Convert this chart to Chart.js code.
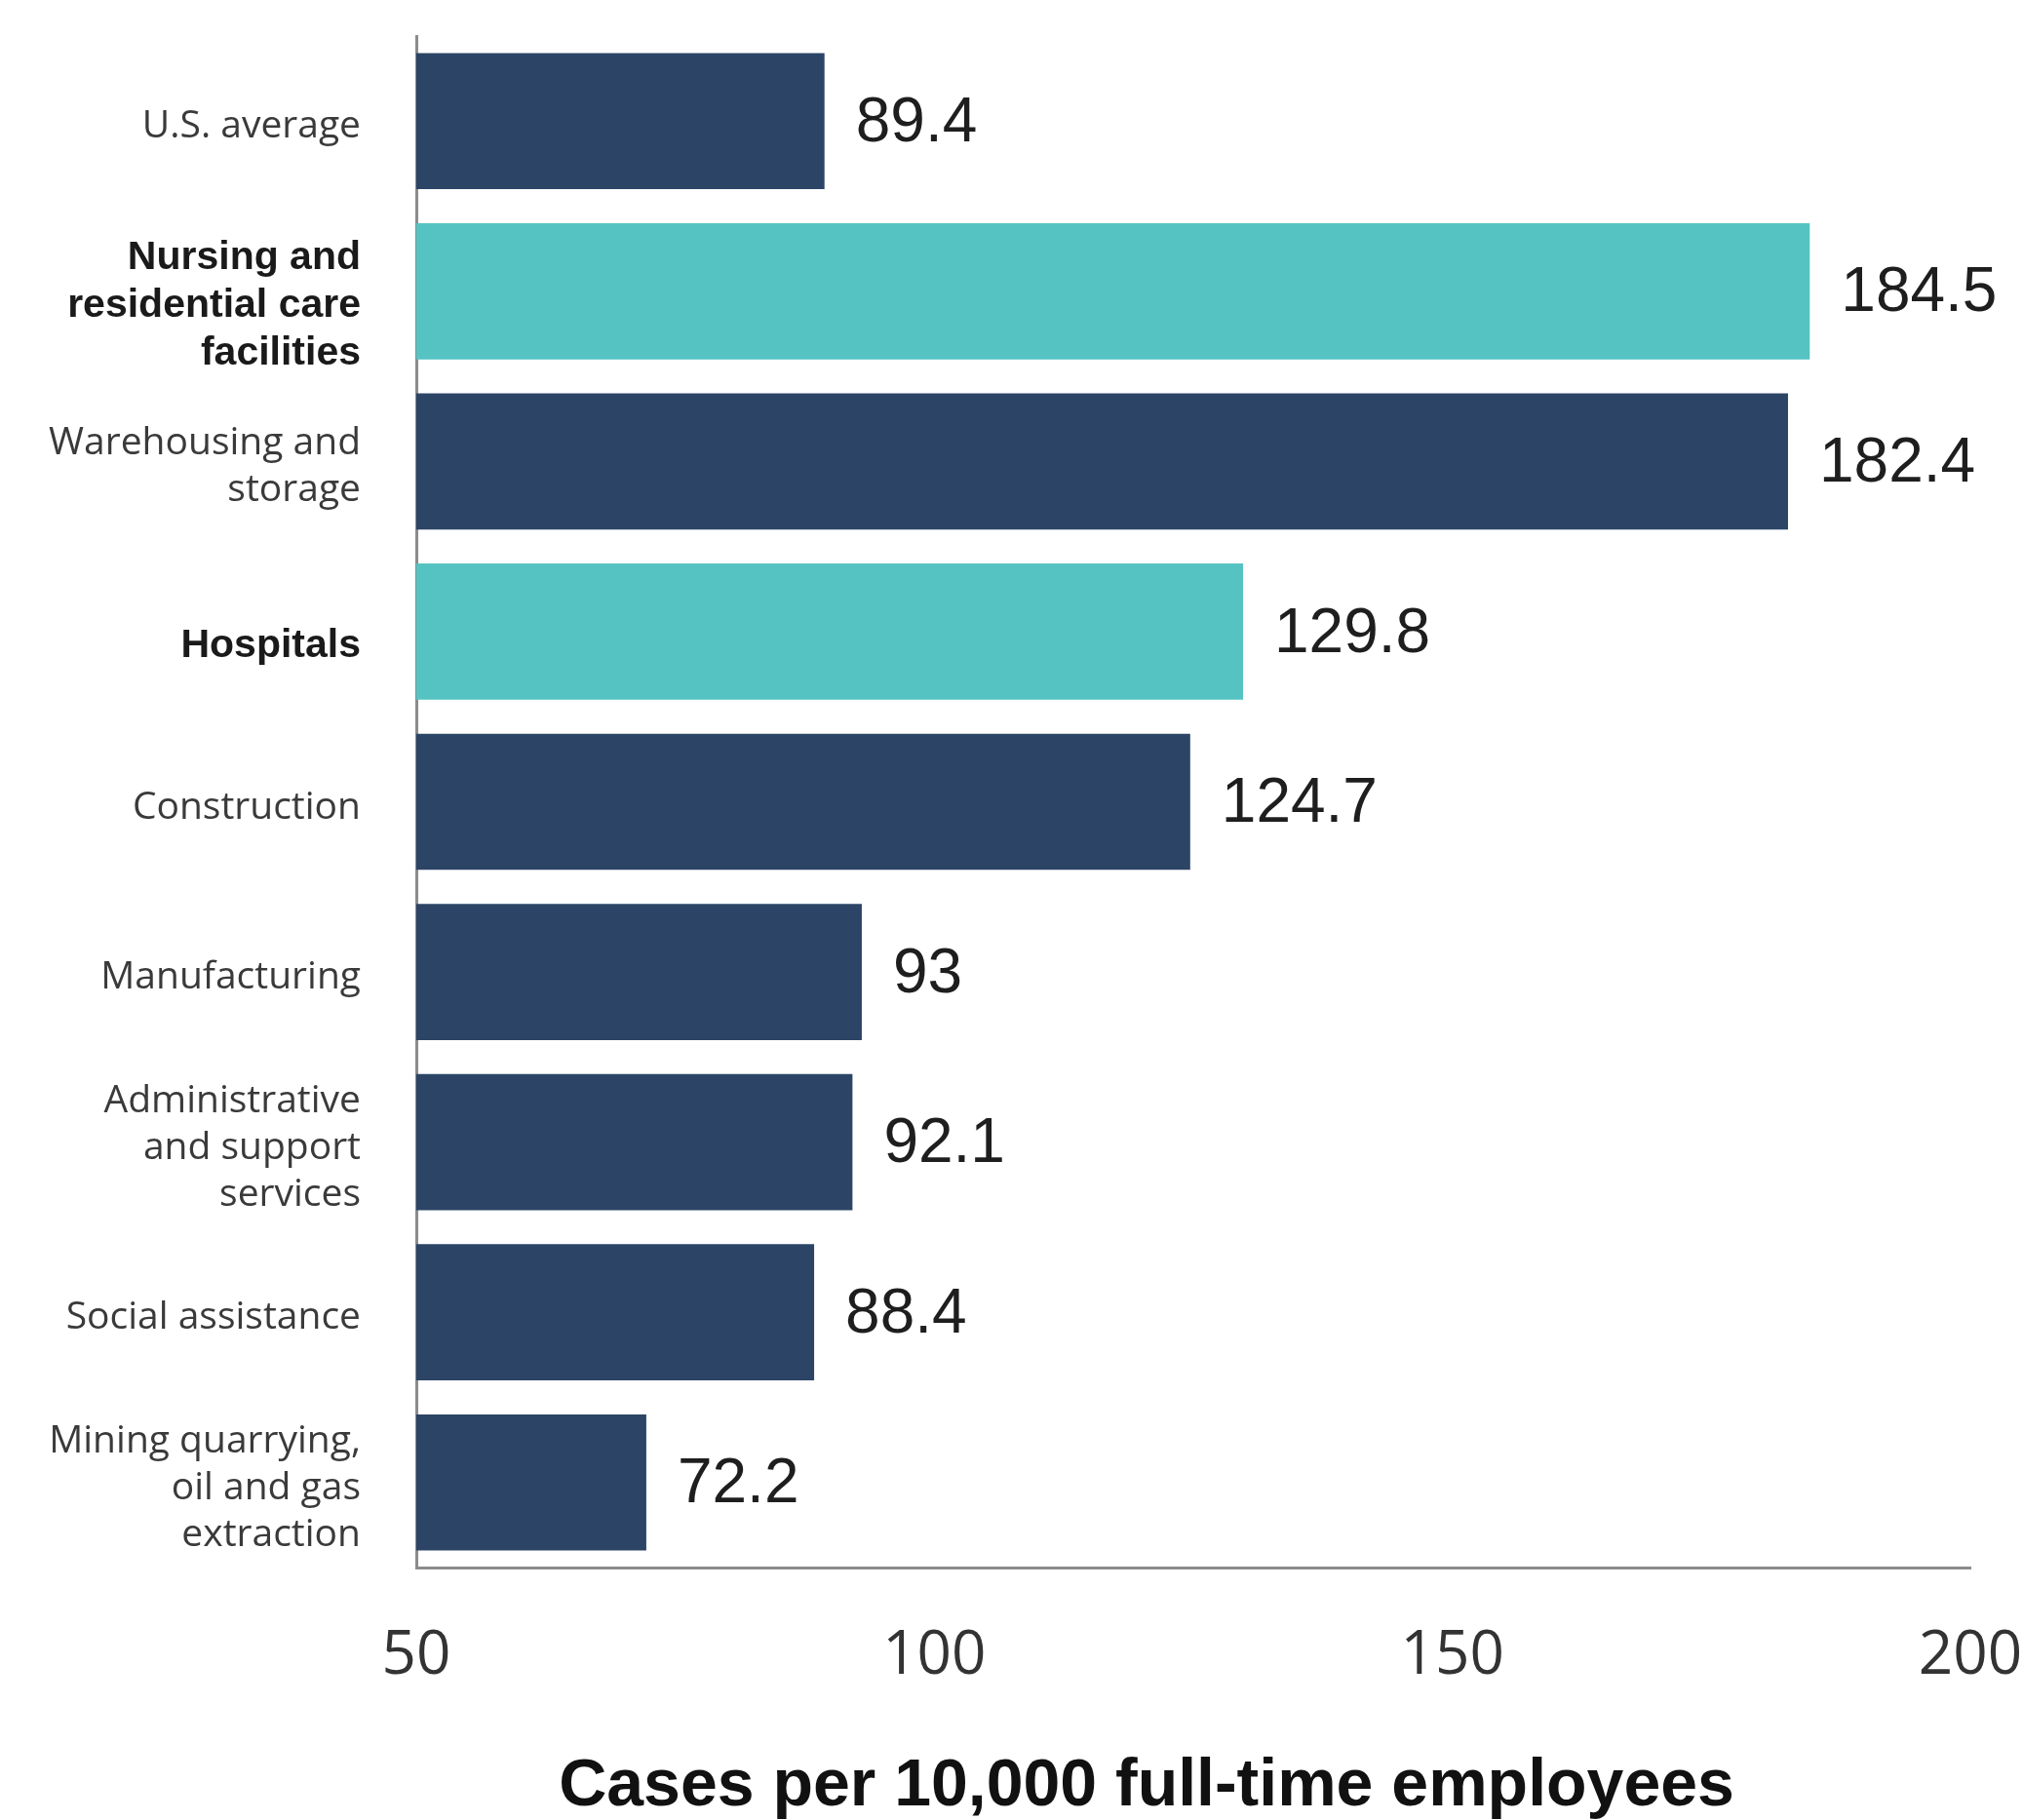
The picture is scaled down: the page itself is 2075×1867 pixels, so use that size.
<!DOCTYPE html>
<html>
<head>
<meta charset="utf-8">
<script src="https://cdn.jsdelivr.net/npm/chart.js@4/dist/chart.umd.min.js"></script>
<style>
  html, body { margin: 0; padding: 0; background: #fff; }
  #wrap { width: 2075px; height: 1867px; position: relative; }
</style>
</head>
<body>
<div id="wrap"><canvas id="plot1"></canvas></div>
<script>
// categorias (lineas de cada etiqueta)
const categorias = [
    ['U.S. average'],
    ['Nursing and', 'residential care', 'facilities'],
    ['Warehousing and', 'storage'],
    ['Hospitals'],
    ['Construction'],
    ['Manufacturing'],
    ['Administrative', 'and support', 'services'],
    ['Social assistance'],
    ['Mining quarrying,', 'oil and gas', 'extraction']
]

// casos por 10,000 empleados
const valores = [89.4, 184.5, 182.4, 129.8, 124.7, 93, 92.1, 88.4, 72.2]

// sectores de salud resaltados
const salud = [false, true, false, true, false, false, false, false, false]

const ticksX = [50, 100, 150, 200]
const tituloX = 'Cases per 10,000 full-time employees'

const colorOscuro = '#2c4566'
const colorTurquesa = '#56c3c3'

/* etiquetas del eje y, dibujadas a mano para poder bajarlas un poco */
let etiquetasY = {
    id: 'etiquetasY',
    afterDraw(chart) {
        const ctx = chart.ctx
        const escalaY = chart.scales.y
        const xDerecha = chart.chartArea.left - 57
        ctx.save()
        ctx.textAlign = 'right'
        ctx.textBaseline = 'middle'
        categorias.forEach((lineas, i) => {
            let tamaño, alto, bajar
            if (salud[i]) {
                tamaño = 41
                alto = 49
                bajar = 15
                ctx.font = 'bold 41px "Liberation Sans", Arial, sans-serif'
                ctx.fillStyle = '#1a1a1a'
            } else {
                tamaño = 39
                alto = 48
                bajar = 6
                ctx.font = '39px "Open Sans", sans-serif'
                ctx.fillStyle = '#3a3a3a'
            }
            const yCentro = escalaY.getPixelForTick(i) + bajar
            const yInicio = yCentro - (lineas.length - 1) * alto / 2
            lineas.forEach((linea, j) => {
                ctx.fillText(linea, xDerecha, yInicio + j * alto)
            })
        })
        ctx.restore()
    }
}

let etiquetasValores = {
    id: 'etiquetasValores',
    afterDatasetsDraw(chart) {
        const ctx = chart.ctx
        const meta = chart.getDatasetMeta(0)
        ctx.save()
        ctx.font = '64px "Liberation Sans", Arial, sans-serif'
        ctx.fillStyle = '#1e1e1e'
        ctx.textBaseline = 'middle'
        ctx.textAlign = 'left'
        meta.data.forEach((barra, i) => {
            ctx.fillText(String(valores[i]), barra.x + 32, barra.y + 3)
        })
        /* titulo del eje x, un poco a la izquierda del centro */
        const area = chart.chartArea
        ctx.font = 'bold 68px "Liberation Sans", Arial, sans-serif'
        ctx.fillStyle = '#111'
        ctx.textAlign = 'center'
        ctx.fillText(tituloX, (area.left + area.right) / 2 - 48, 1833)
        ctx.restore()
    }
}

let ctx = document.getElementById('plot1').getContext('2d')

let grafica1 = new Chart(ctx, {
    type: 'bar',
    data: {
        labels: categorias,
        datasets: [{
            data: valores,
            backgroundColor: salud.map(s => s ? colorTurquesa : colorOscuro),
            borderWidth: 0,
            categoryPercentage: 1,
            barPercentage: 0.8
        }]
    },
    options: {
        indexAxis: 'y',
        responsive: true,
        maintainAspectRatio: false,
        animation: false,
        layout: { padding: { top: 37, right: 54, left: 0, bottom: 0 } },
        plugins: {
            legend: { display: false },
            tooltip: { enabled: false }
        },
        scales: {
            x: {
                min: ticksX[0],
                max: ticksX[ticksX.length - 1],
                afterFit: (scale) => {
                    scale.height = 259
                    scale.paddingLeft = 0
                    scale.paddingRight = 0
                },
                ticks: {
                    stepSize: ticksX[1] - ticksX[0],
                    padding: 54,
                    color: '#333',
                    font: { family: '"Open Sans", sans-serif', size: 62 }
                },
                grid: { drawOnChartArea: false, drawTicks: false, color: 'transparent' },
                border: { display: true, color: '#8c8c8c', width: 3 }
            },
            y: {
                afterFit: (scale) => {
                    scale.width = 427
                    scale.paddingTop = 0
                    scale.paddingBottom = 0
                },
                ticks: { display: false },
                grid: { drawOnChartArea: false, drawTicks: false, color: 'transparent' },
                border: { display: true, color: '#8c8c8c', width: 3 }
            }
        }
    },
    plugins: [etiquetasValores, etiquetasY]
})
</script>
</body>
</html>
